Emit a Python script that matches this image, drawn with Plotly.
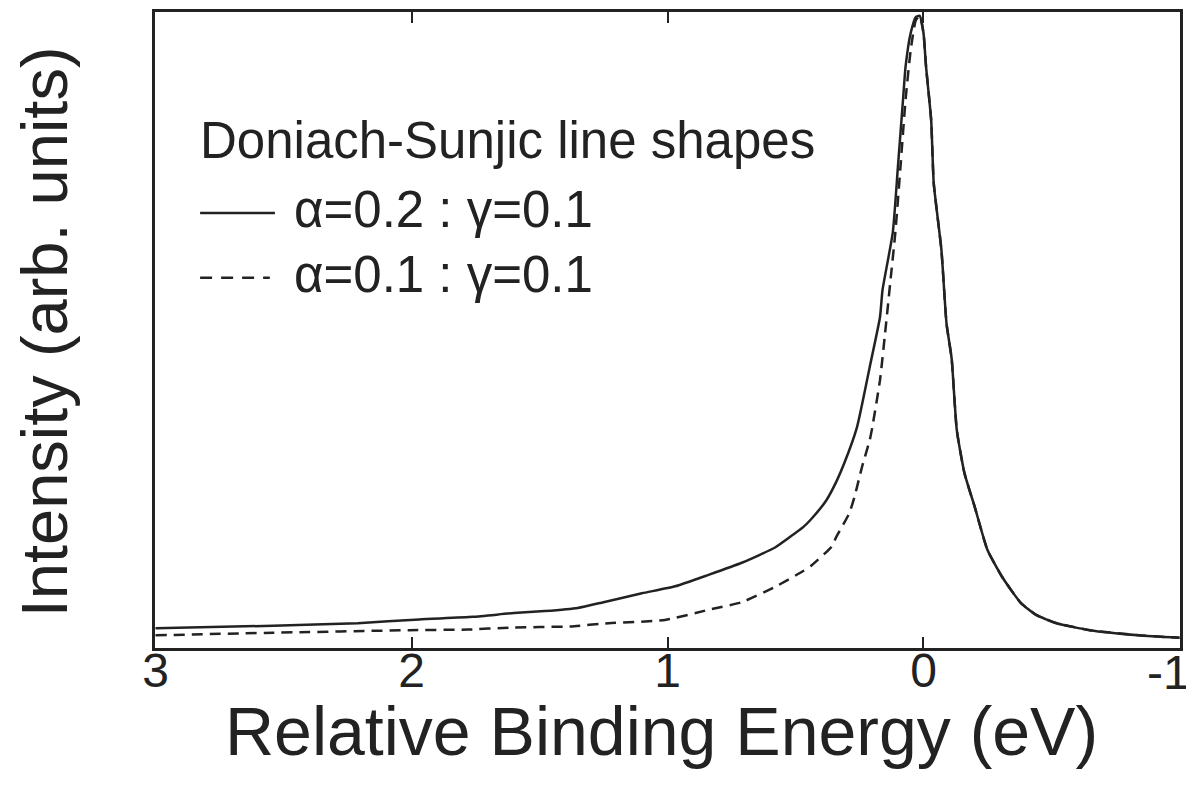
import plotly.graph_objects as go

# Relative binding energy (eV) and normalized intensity
energy_a02 = [3.00, 2.54, 2.21, 1.97, 1.76, 1.60, 1.48, 1.35, 1.25, 1.10, 0.97, 0.84,
              0.71, 0.58, 0.51, 0.47, 0.44, 0.38, 0.34, 0.31, 0.26, 0.21, 0.17, 0.16, 0.12, 0.10,
              0.08, 0.07, 0.05, 0.03, 0.015, 0.00, -0.01, -0.03, -0.04, -0.07, -0.09, -0.11,
              -0.13, -0.16, -0.20, -0.25, -0.31, -0.38, -0.44, -0.52, -0.65, -0.84, -1.00]
intensity_a02 = [0.031, 0.035, 0.039, 0.045, 0.049, 0.055, 0.058, 0.063, 0.072, 0.086,
                 0.097, 0.115, 0.134, 0.158, 0.178, 0.190, 0.202, 0.232, 0.262, 0.290, 0.347, 0.442,
                 0.520, 0.563, 0.653, 0.756, 0.862, 0.914, 0.967, 0.992, 0.994, 0.967, 0.914,
                 0.830, 0.731, 0.626, 0.510, 0.455, 0.343, 0.275, 0.222, 0.154, 0.110, 0.071,
                 0.052, 0.039, 0.028, 0.020, 0.016]

energy_a01 = [3.00, 2.54, 2.01, 1.78, 1.62, 1.38, 1.23, 1.01, 0.84, 0.71, 0.58, 0.47, 0.44,
              0.36, 0.34, 0.29, 0.27, 0.24, 0.21, 0.20, 0.17, 0.15, 0.13, 0.11, 0.09, 0.07,
              0.05, 0.03, 0.015, 0.00, -0.01, -0.03, -0.04, -0.07, -0.09, -0.11, -0.13, -0.16,
              -0.20, -0.25, -0.31, -0.38, -0.44, -0.52, -0.65, -0.84, -1.00]
intensity_a01 = [0.020, 0.024, 0.028, 0.029, 0.032, 0.034, 0.039, 0.044, 0.060, 0.072, 0.096,
                 0.121, 0.129, 0.159, 0.175, 0.212, 0.237, 0.285, 0.327, 0.347, 0.421, 0.495,
                 0.574, 0.653, 0.756, 0.862, 0.940, 0.987, 0.994, 0.967, 0.914, 0.830, 0.731,
                 0.626, 0.510, 0.455, 0.343, 0.275, 0.222, 0.154, 0.110, 0.071, 0.052, 0.039,
                 0.028, 0.020, 0.016]

x_ticks = [3, 2, 1, 0, -1]
x_tick_labels = ["3", "2", "1", "0", "-1"]

legend_title = "Doniach-Sunjic line shapes"
label_a02 = "α=0.2 : γ=0.1"
label_a01 = "α=0.1 : γ=0.1"

ink = "#222222"
font = "Liberation Sans, Arial, Helvetica, sans-serif"

fig = go.Figure()
fig.add_trace(go.Scatter(x=energy_a01, y=intensity_a01, mode="lines", name=label_a01,
                         line=dict(color=ink, width=2.5, dash="11px,7px", shape="spline", smoothing=0.5),
                         showlegend=False))
fig.add_trace(go.Scatter(x=energy_a02, y=intensity_a02, mode="lines", name=label_a02,
                         line=dict(color=ink, width=2.5, shape="spline", smoothing=0.5),
                         showlegend=False))

# The last tick label sits at the right edge of the page; it is drawn right-aligned
# to its tick (as in the reference) so that it is not cut off.
axis_ticktext = x_tick_labels[:-1] + [""]

fig.update_layout(
    width=1186, height=784,
    margin=dict(l=147, r=14, t=4, b=144, autoexpand=False),
    paper_bgcolor="white", plot_bgcolor="white",
    font=dict(family=font, color=ink),
    xaxis=dict(range=[3.002, -1.002], tickvals=x_ticks, ticktext=axis_ticktext,
               ticks="inside", ticklen=11, tickwidth=2, tickcolor=ink,
               showline=True, linewidth=3, linecolor=ink, mirror="ticks",
               ticklabelstandoff=-22, automargin=False,
               showgrid=False, zeroline=False, tickfont=dict(size=48, color=ink)),
    yaxis=dict(range=[0, 1], showticklabels=False, ticks="", automargin=False,
               showline=True, linewidth=3, linecolor=ink, mirror=True,
               showgrid=False, zeroline=False),
)

fig.add_annotation(text=x_tick_labels[-1], xref="x", yref="paper", x=x_ticks[-1], y=-0.038,
                   xanchor="right", yanchor="middle", xshift=13, showarrow=False,
                   font=dict(size=48, color=ink, family=font))

# Axis titles
fig.add_annotation(text="Relative Binding Energy (eV)", xref="paper", yref="paper",
                   x=0.494, y=-0.130, xanchor="center", yanchor="middle", showarrow=False,
                   font=dict(size=68, color=ink, family=font))
fig.add_annotation(text="Intensity (arb. units)", xref="paper", yref="paper",
                   x=-0.107, y=0.497, xanchor="center", yanchor="middle", showarrow=False,
                   textangle=-90, font=dict(size=65, color=ink, family=font))

# Legend block (text + key samples)
fig.add_annotation(text=legend_title, xref="paper", yref="paper", x=0.042, y=0.798,
                   xanchor="left", yanchor="middle", showarrow=False,
                   font=dict(size=51, color=ink, family=font))
fig.add_annotation(text=label_a02, xref="paper", yref="paper", x=0.134, y=0.689,
                   xanchor="left", yanchor="middle", showarrow=False,
                   font=dict(size=51, color=ink, family=font))
fig.add_annotation(text=label_a01, xref="paper", yref="paper", x=0.134, y=0.587,
                   xanchor="left", yanchor="middle", showarrow=False,
                   font=dict(size=51, color=ink, family=font))
fig.add_shape(type="line", xref="paper", yref="paper", x0=0.044, x1=0.117, y0=0.684, y1=0.684,
              line=dict(color=ink, width=2.5))
fig.add_shape(type="line", xref="paper", yref="paper", x0=0.044, x1=0.112, y0=0.582, y1=0.582,
              line=dict(color=ink, width=2.5, dash="12px,9px"))

fig.write_html("out.html")
